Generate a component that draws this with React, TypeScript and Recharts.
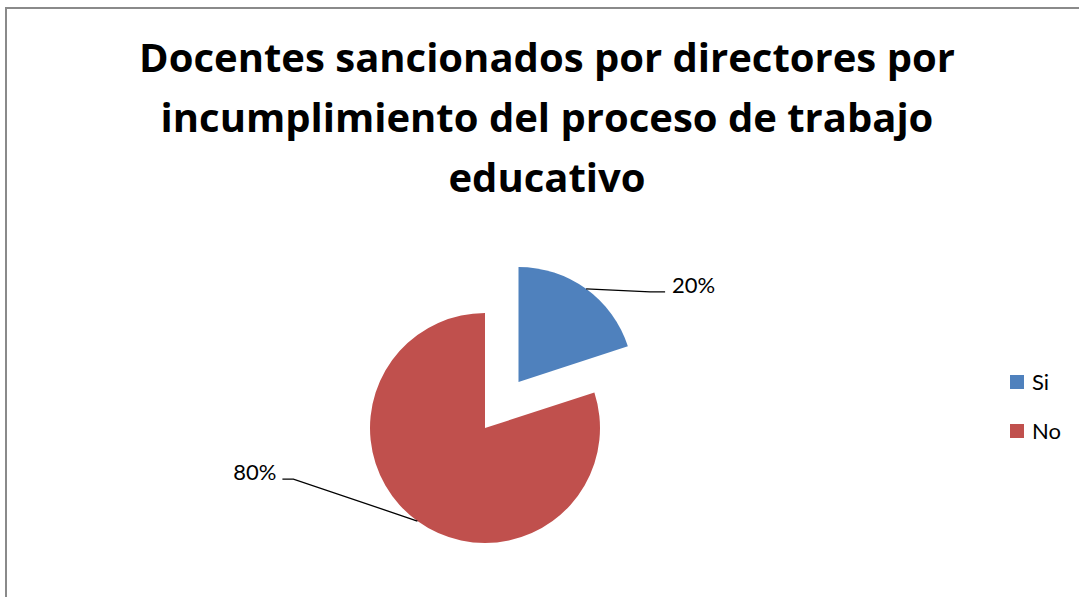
import { PieChart, Pie, Cell, Legend } from "recharts";

const categories = ["Si", "No"];
const values = [20, 80];
const colors = ["#4F81BD", "#C0504D"];
const titleLines = [
  "Docentes sancionados por directores por",
  "incumplimiento del proceso de trabajo",
  "educativo",
];

const data = categories.map((name, i) => ({ name, value: values[i] }));

const RADIAN = Math.PI / 180;
const FONT = "Lato, 'Open Sans', sans-serif";
const TITLE_FONT = "'Open Sans', Lato, sans-serif";
const R = 115;
const CX = 485;
const CY = 428;
const EXPLODE = 57;

// mid angle of the first slice (recharts angles, counter-clockwise from 3 o'clock)
const total = values.reduce((a, b) => a + b, 0);
const firstMid = 90 - (values[0] / total) * 180;
const exCX = CX + EXPLODE * Math.cos(firstMid * RADIAN);
const exCY = CY - EXPLODE * Math.sin(firstMid * RADIAN);

// leader line shape per slice: elbow and end offsets from the arc point
const leader = [
  { elbow: [64, 3], end: [79, 3], anchor: "start", dx: 7, dy: -7 },
  { elbow: [-124, -42], end: [-135, -42], anchor: "end", dx: -6, dy: -8 },
];

function makeLabel(only: number) {
  return (props: any) => {
    const { cx, cy, midAngle, outerRadius, percent, index } = props;
    if (index !== only) return null;
    const sx = cx + outerRadius * Math.cos(-midAngle * RADIAN);
    const sy = cy + outerRadius * Math.sin(-midAngle * RADIAN);
    const l = leader[index];
    const ex = sx + l.end[0];
    const ey = sy + l.end[1];
    return (
      <g>
        <polyline
          points={`${sx},${sy} ${sx + l.elbow[0]},${sy + l.elbow[1]} ${ex},${ey}`}
          fill="none"
          stroke="#000"
          strokeWidth={1.3}
        />
        <text
          x={ex + l.dx}
          y={ey + l.dy}
          textAnchor={l.anchor}
          dominantBaseline="central"
          fontFamily={FONT}
          fontSize={22}
          fill="#000"
        >
          {`${Math.round(percent * 100)}%`}
        </text>
      </g>
    );
  };
}

function LegendBox() {
  return (
    <div style={{ fontFamily: FONT, fontSize: 22, color: "#000" }}>
      {categories.map((c, i) => (
        <div key={c} style={{ display: "flex", alignItems: "center", height: 49 }}>
          <span style={{ width: 14, height: 14, background: colors[i], display: "inline-block", marginRight: 8 }} />
          <span>{c}</span>
        </div>
      ))}
    </div>
  );
}

export default function App() {
  return (
    <div style={{ position: "absolute", left: 0, top: 0, width: 1079, height: 597, overflow: "hidden", background: "#fff" }}>
      <div
        style={{
          position: "absolute",
          left: 5,
          top: 7,
          width: 1100,
          height: 620,
          border: "2px solid #8a8a8a",
          boxSizing: "border-box",
        }}
      />
      <svg width={1079} height={597} style={{ position: "absolute", left: 0, top: 0 }}>
        {titleLines.map((t, i) => (
          <text
            key={i}
            x={547}
            y={72 + i * 60}
            textAnchor="middle"
            fontFamily={TITLE_FONT}
            fontWeight="bold"
            fontSize={40}
            fill="#000"
          >
            {t}
          </text>
        ))}
      </svg>
      <div style={{ position: "absolute", left: 0, top: 0 }}>
        <PieChart width={1079} height={597} margin={{ top: 0, right: 0, bottom: 0, left: 0 }}>
          <Pie
            data={data}
            dataKey="value"
            nameKey="name"
            cx={exCX}
            cy={exCY}
            outerRadius={R}
            startAngle={90}
            endAngle={-270}
            stroke="none"
            label={makeLabel(0)}
            labelLine={false}
            legendType="none"
            isAnimationActive={false}
          >
            {data.map((d, i) => (
              <Cell key={d.name} fill={i === 0 ? colors[0] : "transparent"} />
            ))}
          </Pie>
          <Pie
            data={data}
            dataKey="value"
            nameKey="name"
            cx={CX}
            cy={CY}
            outerRadius={R}
            startAngle={90}
            endAngle={-270}
            stroke="none"
            label={makeLabel(1)}
            labelLine={false}
            legendType="none"
            isAnimationActive={false}
          >
            {data.map((d, i) => (
              <Cell key={d.name} fill={i === 1 ? colors[1] : "transparent"} />
            ))}
          </Pie>
          <Legend
            layout="vertical"
            content={() => <LegendBox />}
            wrapperStyle={{ position: "absolute", left: 1010, top: 357, width: 70 }}
          />
        </PieChart>
      </div>
    </div>
  );
}
